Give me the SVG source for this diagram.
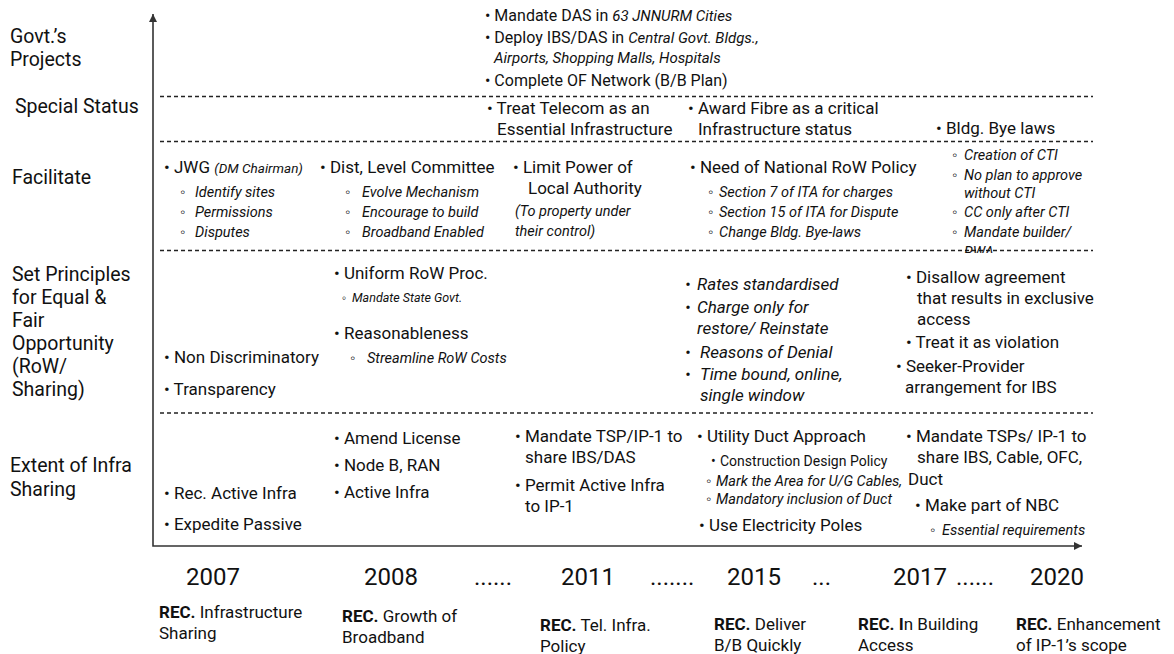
<svg xmlns="http://www.w3.org/2000/svg" width="1174" height="654" viewBox="0 0 1174 654">
<style>
text{font-family:Roboto,'Liberation Sans',sans-serif;fill:#111}
.lb{font-size:19.5px}
.m{font-size:17px}
.g{font-size:16px}
.gi{font-size:15px;font-style:italic}
.i{font-size:14.5px;font-style:italic}
.is{font-size:12.5px;font-style:italic}
.dm{font-size:13.5px;font-style:italic}
.mi{font-size:17px;font-style:italic}
.sr{font-size:14px}
.yr{font-size:24px}
.b{font-weight:bold}
.dash{stroke:#222;stroke-width:1.5;stroke-dasharray:4 3;fill:none}
.ax{stroke:#333;stroke-width:1.6;fill:none}
</style>
<defs>
<marker id="ah" viewBox="0 0 10 10" refX="10" refY="5" markerWidth="5" markerHeight="5" orient="auto-start-reverse"><path d="M0,0 L10,5 L0,10 z" fill="#333"/></marker>
<clipPath id="rwa"><rect x="950" y="240" width="150" height="13"/></clipPath>
</defs>
<g id="connectors">
<path class="ax" d="M153,14 L153,546 L1082,546" marker-start="url(#ah)" marker-end="url(#ah)"/>
<line class="dash" x1="160" y1="96.5" x2="1093" y2="96.5"/>
<line class="dash" x1="160" y1="141.5" x2="1093" y2="141.5"/>
<line class="dash" x1="160" y1="250.5" x2="1093" y2="250.5"/>
<line class="dash" x1="160" y1="413" x2="1093" y2="413"/>
</g>
<g id="row-labels">
<text class="lb" x="10" y="43">Govt.’s</text>
<text class="lb" x="10" y="66">Projects</text>
<text class="lb" x="15" y="113">Special Status</text>
<text class="lb" x="12" y="184">Facilitate</text>
<text class="lb" x="12" y="281">Set Principles</text>
<text class="lb" x="12" y="304">for Equal &amp;</text>
<text class="lb" x="12" y="327">Fair</text>
<text class="lb" x="12" y="350">Opportunity</text>
<text class="lb" x="12" y="373">(RoW/</text>
<text class="lb" x="12" y="396">Sharing)</text>
<text class="lb" x="10" y="472">Extent of Infra</text>
<text class="lb" x="10" y="496">Sharing</text>
</g>
<g id="govt-projects">
<text class="g" x="485" y="21">• Mandate DAS in <tspan class="gi">63 JNNURM Cities</tspan></text>
<text class="g" x="485" y="43">• Deploy IBS/DAS in <tspan class="gi">Central Govt. Bldgs.,</tspan></text>
<text class="gi" x="494" y="63">Airports, Shopping Malls, Hospitals</text>
<text class="g" x="485" y="86">• Complete OF Network (B/B Plan)</text>
</g>
<g id="special-status">
<text class="m" x="487" y="114">• Treat Telecom as an</text>
<text class="m" x="497" y="135">Essential Infrastructure</text>
<text class="m" x="688" y="114">• Award Fibre as a critical</text>
<text class="m" x="698" y="135">Infrastructure status</text>
<text class="m" x="936" y="134">• Bldg. Bye laws</text>
</g>
<g id="facilitate">
<text class="m" x="164" y="173">• JWG <tspan class="dm">(DM Chairman)</tspan></text>
<text class="i" x="180" y="197">◦<tspan x="195">Identify sites</tspan></text>
<text class="i" x="180" y="217">◦<tspan x="195">Permissions</tspan></text>
<text class="i" x="180" y="237">◦<tspan x="195">Disputes</tspan></text>
<text class="m" x="320" y="173">• Dist, Level Committee</text>
<text class="i" x="345" y="197">◦<tspan x="362">Evolve Mechanism</tspan></text>
<text class="i" x="345" y="217">◦<tspan x="362">Encourage to build</tspan></text>
<text class="i" x="345" y="237">◦<tspan x="362">Broadband Enabled</tspan></text>
<text class="m" x="513" y="173">• Limit Power of</text>
<text class="m" x="528" y="194">Local Authority</text>
<text class="i" x="515" y="216">(To property under</text>
<text class="i" x="515" y="236">their control)</text>
<text class="m" x="690" y="173">• Need of National RoW Policy</text>
<text class="i" x="708" y="197">◦<tspan x="719">Section 7 of ITA for charges</tspan></text>
<text class="i" x="708" y="217">◦<tspan x="719">Section 15  of ITA for Dispute</tspan></text>
<text class="i" x="708" y="237">◦<tspan x="719">Change Bldg. Bye-laws</tspan></text>
<text class="i" x="952" y="160">◦<tspan x="964">Creation of CTI</tspan></text>
<text class="i" x="952" y="180">◦<tspan x="964">No plan to approve</tspan></text>
<text class="i" x="964" y="198">without CTI</text>
<text class="i" x="952" y="217">◦<tspan x="964">CC only after CTI</tspan></text>
<text class="i" x="952" y="237">◦<tspan x="964">Mandate builder/</tspan></text>
<text class="i" x="964" y="257" clip-path="url(#rwa)">RWA</text>
</g>
<g id="set-principles">
<text class="m" x="334" y="279">• Uniform RoW Proc.</text>
<text class="is" x="342" y="302">◦<tspan x="352">Mandate State Govt.</tspan></text>
<text class="m" x="334" y="339">• Reasonableness</text>
<text class="i" x="350" y="363">◦<tspan x="367">Streamline RoW Costs</tspan></text>
<text class="m" x="164" y="363">• Non Discriminatory</text>
<text class="m" x="164" y="395">• Transparency</text>
<text class="mi" x="685" y="290">•<tspan x="697">Rates standardised</tspan></text>
<text class="mi" x="685" y="313">•<tspan x="697">Charge only for</tspan></text>
<text class="mi" x="697" y="334">restore/ Reinstate</text>
<text class="mi" x="685" y="358">•<tspan x="700">Reasons of Denial</tspan></text>
<text class="mi" x="685" y="380">•<tspan x="700">Time bound, online,</tspan></text>
<text class="mi" x="700" y="401">single window</text>
<text class="m" x="906" y="283">• Disallow agreement</text>
<text class="m" x="917" y="304">that results in exclusive</text>
<text class="m" x="917" y="325">access</text>
<text class="m" x="906" y="348">• Treat it as violation</text>
<text class="m" x="896" y="372">• Seeker-Provider</text>
<text class="m" x="905" y="393">arrangement for IBS</text>
</g>
<g id="infra-sharing">
<text class="m" x="164" y="499">• Rec. Active Infra</text>
<text class="m" x="164" y="530">• Expedite Passive</text>
<text class="m" x="334" y="444">• Amend License</text>
<text class="m" x="334" y="471">• Node B, RAN</text>
<text class="m" x="334" y="498">• Active Infra</text>
<text class="m" x="515" y="442">• Mandate TSP/IP-1 to</text>
<text class="m" x="525" y="463">share IBS/DAS</text>
<text class="m" x="515" y="491">• Permit Active Infra</text>
<text class="m" x="525" y="512">to IP-1</text>
<text class="m" x="697" y="442">• Utility Duct Approach</text>
<text class="sr" x="711" y="466">•<tspan x="720">Construction Design Policy</tspan></text>
<text class="i" x="706" y="486">◦<tspan x="716">Mark the Area for U/G Cables,</tspan></text>
<text class="i" x="706" y="504">◦<tspan x="716">Mandatory inclusion of Duct</tspan></text>
<text class="m" x="699" y="531">• Use Electricity Poles</text>
<text class="m" x="906" y="442">• Mandate TSPs/ IP-1 to</text>
<text class="m" x="917" y="463">share IBS, Cable, OFC,</text>
<text class="m" x="908" y="485">Duct</text>
<text class="m" x="915" y="511">• Make part of NBC</text>
<text class="i" x="930" y="535">◦<tspan x="942">Essential requirements</tspan></text>
</g>
<g id="years">
<text class="yr" x="186" y="585">2007</text>
<text class="yr" x="364" y="585">2008</text>
<text class="yr" x="474" y="585">......</text>
<text class="yr" x="561" y="585">2011</text>
<text class="yr" x="650" y="585">.......</text>
<text class="yr" x="727" y="585">2015</text>
<text class="yr" x="812" y="585">...</text>
<text class="yr" x="893" y="585">2017</text>
<text class="yr" x="956" y="585">......</text>
<text class="yr" x="1030" y="585">2020</text>
</g>
<g id="recommendations">
<text class="m" x="159" y="618"><tspan class="b">REC.</tspan> Infrastructure</text>
<text class="m" x="159" y="639">Sharing</text>
<text class="m" x="342" y="622"><tspan class="b">REC.</tspan> Growth of</text>
<text class="m" x="342" y="643">Broadband</text>
<text class="m" x="540" y="631"><tspan class="b">REC.</tspan> Tel. Infra.</text>
<text class="m" x="540" y="652">Policy</text>
<text class="m" x="714" y="630"><tspan class="b">REC.</tspan> Deliver</text>
<text class="m" x="714" y="651">B/B Quickly</text>
<text class="m" x="858" y="630"><tspan class="b">REC. I</tspan>n Building</text>
<text class="m" x="858" y="651">Access</text>
<text class="m" x="1016" y="630"><tspan class="b">REC.</tspan> Enhancement</text>
<text class="m" x="1016" y="651">of IP-1’s scope</text>
</g>
</svg>
